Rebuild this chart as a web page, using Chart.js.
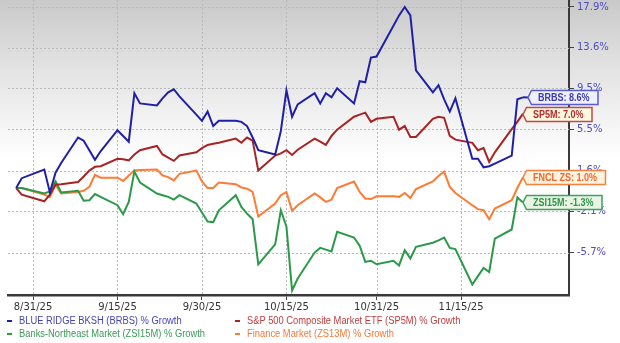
<!DOCTYPE html>
<html>
<head>
<meta charset="utf-8">
<script src="https://cdn.jsdelivr.net/npm/chart.js@4.4.1/dist/chart.umd.min.js"></script>
<style>
  html, body { margin: 0; padding: 0; background: #fff; }
  #wrap { position: relative; width: 620px; height: 343px; overflow: hidden; }
  #chart { position: absolute; left: 0; top: 0; }
  .leg { position: absolute; height: 12px; line-height: 12px; white-space: nowrap;
         font: 10px "Liberation Sans", Arial, sans-serif; }
  .leg i { position: absolute; left: 0; top: 5px; width: 5px; height: 2px; }
  .leg span { position: absolute; display: inline-block; transform: scaleX(0.935); transform-origin: 0 50%; }
</style>
</head>
<body>
<div id="wrap">
  <canvas id="chart" width="620" height="343"></canvas>
</div>
<script>
"use strict";

// trading days
const DATES = [
  "2025-08-28", "2025-08-29", "2025-09-02", "2025-09-03", "2025-09-04", "2025-09-05",
  "2025-09-08", "2025-09-09", "2025-09-10", "2025-09-11", "2025-09-12",
  "2025-09-15", "2025-09-16", "2025-09-17", "2025-09-18", "2025-09-19",
  "2025-09-22", "2025-09-23", "2025-09-24", "2025-09-25", "2025-09-26",
  "2025-09-29", "2025-09-30", "2025-10-01", "2025-10-02", "2025-10-03",
  "2025-10-06", "2025-10-07", "2025-10-08", "2025-10-09", "2025-10-10",
  "2025-10-13", "2025-10-14", "2025-10-15", "2025-10-16", "2025-10-17",
  "2025-10-20", "2025-10-21", "2025-10-22", "2025-10-23", "2025-10-24",
  "2025-10-27", "2025-10-28", "2025-10-29", "2025-10-30", "2025-10-31",
  "2025-11-03", "2025-11-04", "2025-11-05", "2025-11-06", "2025-11-07",
  "2025-11-10", "2025-11-11", "2025-11-12", "2025-11-13", "2025-11-14",
  "2025-11-17", "2025-11-18", "2025-11-19", "2025-11-20", "2025-11-21",
  "2025-11-24", "2025-11-25", "2025-11-26",
];

// % growth since start
const BRBS = [
  0, 0.9, 1.7, -0.4, 1.4, 2.3,
  4.7, 4.4, 3.5, 2.6, 3.4,
  5.4, 4.85, 4.3, 9.0, 8.0,
  7.8, 8.5, 9.1, 9.4, 8.7,
  6.9, 6.3, 7.2, 5.8, 6.3,
  6.3, 6.2, 5.8, 4.7, 3.5,
  3.1, 5.3, 9.3, 6.7, 7.9,
  9.0, 8.0, 9.0, 8.6, 9.5,
  8.0, 10.2, 10.1, 12.6, 12.7,
  15.9, 17.0, 17.9, 17.0, 11.3,
  9.1, 9.8, 8.4, 7.2, 8.5,
  2.7, 2.7, 1.9, 2.0, 2.25,
  3.0, 8.4, 8.6,
];
const SP5M = [
  0, -0.6, -1.2, -0.6, 0.3, 0.35,
  0.55, 1.05, 1.6, 1.95, 2.0,
  2.7, 2.65, 2.55, 3.1, 3.5,
  3.9, 3.1, 2.8, 2.5, 3.0,
  3.3, 3.7, 4.0, 4.1, 4.2,
  4.6, 4.2, 4.7, 4.4, 1.6,
  3.0, 3.2, 3.5, 3.05, 3.55,
  4.6, 4.3, 4.0, 4.85, 5.45,
  6.7, 6.9, 7.1, 6.2, 6.5,
  6.7, 5.45, 5.8, 4.75, 4.75,
  6.5, 6.7, 6.6, 4.85, 4.5,
  4.2, 3.5, 3.7, 2.4, 3.3,
  5.5, 6.2, 7.0,
];
const ZSI15M = [
  0, 0, -0.5, -0.3, 0.6, -0.4,
  -0.25, -1.15, -1.1, -0.55, -0.8,
  -1.55, -2.35, -1.25, 1.5, 0.5,
  -0.5, -0.65, -0.8, -1.05, -0.65,
  -1.4, -2.2, -3.0, -3.05, -2.0,
  -0.65, -1.7, -2.3, -2.8, -6.7,
  -5.0, -2.0, -3.45, -8.9, -7.9,
  -5.7, -5.3, -5.45, -5.6, -3.9,
  -4.4, -5.1, -6.5, -6.4, -6.7,
  -6.4, -6.8, -5.5, -6.2, -5.2,
  -4.85, -4.65, -4.4, -5.3, -5.4,
  -8.4, -7.7, -7.0, -7.35, -4.5,
  -3.7, -0.85, -1.3,
];
const FNCL = [
  0, 0, -0.6, -0.8, 0.3, -0.5,
  -0.35, -0.25, 0.1, 1.2, 0.95,
  0.95, 0.65, 1.15, 1.6, 1.65,
  1.7, 1.15, 1.0, 0.7, 1.3,
  1.6, 0.6, 0.0, 0.0, 0.5,
  0.35, 0.05, -0.05, -0.35, -2.55,
  -1.4, -0.65, -0.35, -2.05, -1.55,
  -0.5, -0.85, -1.25, -1.05, 0.0,
  0.6, -0.35, -0.95, -1.0, -0.75,
  -0.75, -0.8, -0.45, -0.9, -0.1,
  0.6, 1.1, 1.5, 0.1, -0.45,
  -1.55, -1.9, -2.0, -2.8, -1.85,
  -1.1, 0.0, 1.0,
];

const NAMES = [
  "BLUE RIDGE BKSH (BRBS) % Growth",
  "S&P 500 Composite Market ETF (SP5M) % Growth",
  "Banks-Northeast Market (ZSI15M) % Growth",
  "Finance Market (ZS13M) % Growth",
];
const TAGS = ["BRBS", "SP5M", "ZSI15M", "FNCL ZS"];
const SERIES = [BRBS, SP5M, ZSI15M, FNCL];

const TICK_DATES = ["2025-08-31", "2025-09-15", "2025-09-30", "2025-10-15", "2025-10-31", "2025-11-15"];
const Y_TICKS = [-5.7, -2.1, 1.6, 5.5, 9.5, 13.6, 17.9];

// styling
const LINE_COLORS = ["#2020a6", "#a82424", "#2a9a48", "#ff7a32"];
const TEXT_COLORS = ["#4444b8", "#c03c3c", "#3a9a58", "#f27a3a"];
const TAG_FILLS = ["#eef0fb", "#fcf7df", "#e9f5e4", "#fdf3e1"];
const TAG_BORDERS = ["#5b5bd0", "#c44848", "#3fa060", "#f5813f"];
const TAG_TEXT = ["#3b3bb0", "#b02c2c", "#2e944a", "#f0682a"];
const TAG_GAP = [5, 0, 0, 0];
const LEGEND_POS = [[7, 315], [235, 315], [7, 327.5], [235, 327.5]];
const GRID = "#b9b9b9";

const X_MIN = -4.44, X_MAX = 95.17;
const Y_MIN = -9.27, Y_MAX = 18.65;

const DAY0 = Date.parse("2025-08-31");
const dayOf = (s) => Math.round((Date.parse(s) - DAY0) / 86400000);

function fmtDate(v) {
  const s = TICK_DATES.find((d) => dayOf(d) === Math.round(v));
  if (!s) return "";
  const [y, m, d] = s.split("-");
  return `${+m}/${+d}/${y.slice(2)}`;
}

const backdrop = {
  id: "backdrop",
  beforeDraw(chart) {
    const { ctx, width, height } = chart;
    const g = ctx.createLinearGradient(0, 0, 0, 160);
    g.addColorStop(0, "#c9c9c9");
    g.addColorStop(0.45, "#e4e4e4");
    g.addColorStop(1, "#ffffff");
    ctx.save();
    ctx.fillStyle = "#fff";
    ctx.fillRect(0, 0, width, height);
    ctx.fillStyle = g;
    ctx.fillRect(0, 0, width, 160);
    ctx.restore();
  },
};

// dashed grid drawn under the lines
const dashGrid = {
  id: "dashGrid",
  beforeDatasetsDraw(chart) {
    const { ctx, chartArea: a, scales } = chart;
    ctx.save();
    ctx.strokeStyle = GRID;
    ctx.lineWidth = 1;
    ctx.setLineDash([2, 2]);
    scales.x.ticks.forEach((t) => {
      const x = Math.round(scales.x.getPixelForValue(t.value)) + 0.5;
      ctx.beginPath();
      ctx.moveTo(x, a.top);
      ctx.lineTo(x, a.bottom);
      ctx.stroke();
    });
    scales.y.ticks.forEach((t) => {
      const y = Math.round(scales.y.getPixelForValue(t.value)) + 0.5;
      ctx.beginPath();
      ctx.moveTo(a.left, y);
      ctx.lineTo(a.right, y);
      ctx.stroke();
    });
    ctx.restore();
  },
};

// value tags at the end of each line
const endTags = {
  id: "endTags",
  afterDraw(chart) {
    const ctx = chart.ctx;
    ctx.save();
    ctx.font = 'bold 10px "Liberation Sans", Arial, sans-serif';
    ctx.textBaseline = "middle";
    SERIES.forEach((vals, i) => {
      const meta = chart.getDatasetMeta(i);
      const pt = meta.data[meta.data.length - 1];
      const last = vals[vals.length - 1];
      const text = `${TAGS[i]}: ${last.toFixed(1)}%`;
      const sx = 0.9;
      const tw = ctx.measureText(text).width * sx;
      const tip = pt.x + TAG_GAP[i];
      const cy = Math.round(pt.y) + 0.5;
      const left = tip + 3.5;
      const right = left + 6.5 + tw + 8.5;
      if (TAG_GAP[i]) {
        ctx.strokeStyle = LINE_COLORS[i];
        ctx.lineWidth = 2;
        ctx.beginPath();
        ctx.moveTo(pt.x, pt.y);
        ctx.lineTo(tip, cy);
        ctx.stroke();
      }
      ctx.beginPath();
      ctx.moveTo(tip, cy);
      ctx.lineTo(left, cy - 7);
      ctx.lineTo(right, cy - 7);
      ctx.lineTo(right, cy + 7);
      ctx.lineTo(left, cy + 7);
      ctx.closePath();
      ctx.fillStyle = TAG_FILLS[i];
      ctx.fill();
      ctx.lineWidth = 1.5;
      ctx.strokeStyle = TAG_BORDERS[i];
      ctx.stroke();
      ctx.save();
      ctx.translate(left + 6.5, cy + 0.5);
      ctx.scale(sx, 1);
      ctx.fillStyle = TAG_TEXT[i];
      ctx.fillText(text, 0, 0);
      ctx.restore();
    });
    ctx.restore();
  },
};

const tickFont = { family: "'DejaVu Sans', sans-serif", size: 10 };

new Chart(document.getElementById("chart"), {
  type: "line",
  data: {
    datasets: SERIES.map((vals, i) => ({
      label: NAMES[i],
      data: DATES.map((d, k) => ({ x: dayOf(d), y: 100 + vals[k] })),
      borderColor: LINE_COLORS[i],
      borderWidth: 2,
      pointRadius: 0,
      tension: 0,
      fill: false,
    })),
  },
  options: {
    responsive: false,
    animation: false,
    devicePixelRatio: 1,
    layout: { padding: { left: 8, top: 0, right: 0, bottom: 0 } },
    plugins: { legend: { display: false }, tooltip: { enabled: false } },
    scales: {
      x: {
        type: "linear",
        min: X_MIN,
        max: X_MAX,
        afterBuildTicks: (s) => { s.ticks = TICK_DATES.map((d) => ({ value: dayOf(d) })); },
        afterFit: (s) => { s.height = 48; s.paddingLeft = 0; s.paddingRight = 0; },
        grid: { drawOnChartArea: false, tickLength: 5, tickColor: "#444", tickWidth: 1 },
        border: { color: "#3a3a3a", width: 2.5 },
        ticks: { callback: fmtDate, color: "#333", font: tickFont, padding: 1, maxRotation: 0, autoSkip: false },
      },
      y: {
        type: "logarithmic",
        position: "right",
        min: 100 + Y_MIN,
        max: 100 + Y_MAX,
        afterBuildTicks: (s) => { s.ticks = Y_TICKS.map((v) => ({ value: 100 + v })); },
        afterFit: (s) => { s.width = 51; s.paddingTop = 0; s.paddingBottom = 0; },
        grid: { drawOnChartArea: false, tickLength: 5, tickColor: "#444", tickWidth: 1 },
        border: { color: "#3a3a3a", width: 2 },
        ticks: {
          callback: (v) => `${(v - 100).toFixed(1)}%`,
          color: "#4d4dc4",
          font: tickFont,
          padding: 3,
          autoSkip: false,
        },
      },
    },
  },
  plugins: [backdrop, dashGrid, endTags],
});

// legend below the axis
const wrap = document.getElementById("wrap");
NAMES.forEach((name, i) => {
  const el = document.createElement("div");
  el.className = "leg";
  el.style.left = LEGEND_POS[i][0] + "px";
  el.style.top = LEGEND_POS[i][1] + "px";
  el.innerHTML = `<i style="background:${LINE_COLORS[i]}"></i><span style="left:12px;color:${TEXT_COLORS[i]}"></span>`;
  el.querySelector("span").textContent = name;
  wrap.appendChild(el);
});
</script>
</body>
</html>
